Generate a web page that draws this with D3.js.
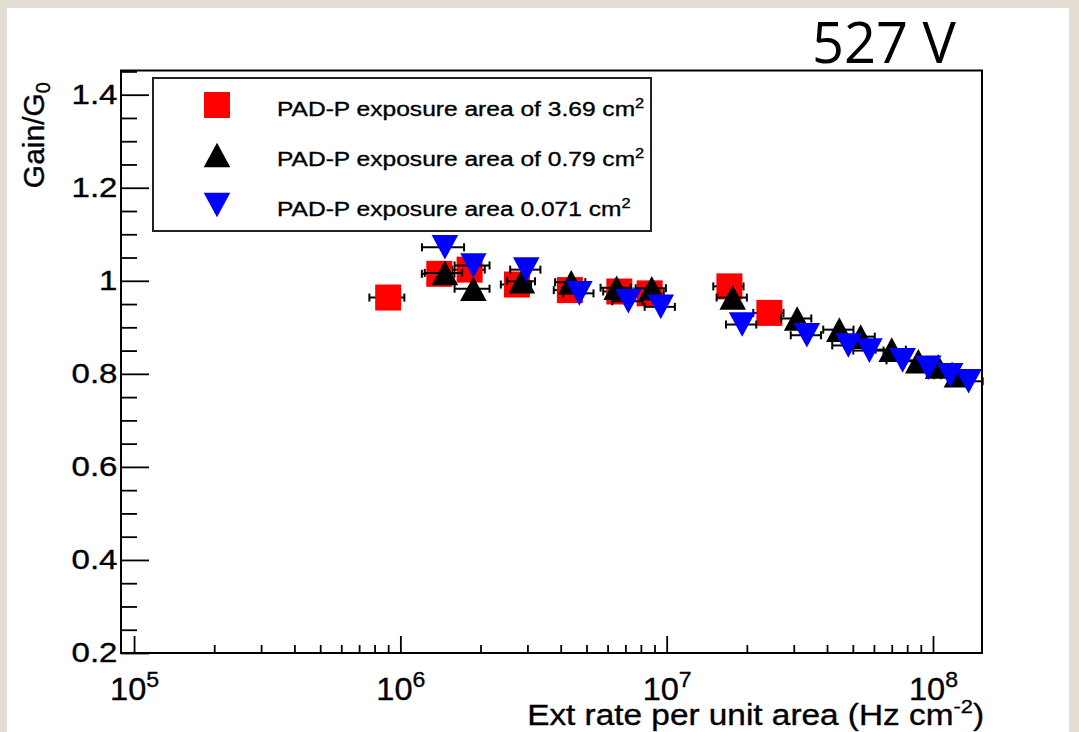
<!DOCTYPE html>
<html>
<head>
<meta charset="utf-8">
<script src="https://cdn.jsdelivr.net/npm/d3@7"></script>
<style>
body { margin: 0; background: #e4ddd3; }
svg { display: block; }
.root-text { stroke: #000; stroke-width: 0.35px; }
</style>
</head>
<body>
<svg id="chart" width="1079" height="732"></svg>
<script>
// ---------- data ----------
// PAD-P exposure area of 3.69 cm2 (red squares)
var rateRed = [9.0e5, 1.40e6, 1.82e6, 2.74e6, 4.33e6, 6.64e6, 8.63e6, 1.72e7, 2.43e7];
var gainRed = [0.964, 1.015, 1.024, 0.992, 0.980, 0.977, 0.973, 0.988, 0.931];
var errRed  = [0.15, 0.14, 0.14, 0.13, 0.13, 0.13, 0.13, 0.13, 0.13];

// PAD-P exposure area of 0.79 cm2 (black triangles up)
var rateBlack = [1.47e6, 1.88e6, 2.86e6, 4.38e6, 6.49e6, 8.79e6, 1.77e7, 3.09e7, 4.45e7, 5.35e7, 7.0e7, 8.81e7, 1.045e8, 1.23e8];
var gainBlack = [1.017, 0.983, 0.999, 0.997, 0.985, 0.984, 0.964, 0.919, 0.895, 0.880, 0.852, 0.827, 0.816, 0.797];
var errBlack  = [0.16, 0.15, 0.12, 0.13, 0.13, 0.13, 0.13, 0.13, 0.13, 0.13, 0.13, 0.13, 0.13, 0.13];

// PAD-P exposure area 0.071 cm2 (blue triangles down)
var rateBlue = [1.47e6, 1.88e6, 2.97e6, 4.7e6, 7.18e6, 9.5e6, 1.92e7, 3.36e7, 4.81e7, 5.77e7, 7.69e7, 9.6e7, 1.16e8, 1.36e8];
var gainBlue = [1.072, 1.033, 1.024, 0.973, 0.956, 0.944, 0.906, 0.883, 0.861, 0.850, 0.829, 0.813, 0.797, 0.784];
var errBlue  = [0.18, 0.15, 0.13, 0.13, 0.13, 0.13, 0.13, 0.13, 0.13, 0.13, 0.13, 0.13, 0.13, 0.13];

var legendLabels = ["PAD-P exposure area of 3.69 cm", "PAD-P exposure area of 0.79 cm", "PAD-P exposure area 0.071 cm"];
var yMajorTicks = [0.2, 0.4, 0.6, 0.8, 1.0, 1.2, 1.4];
var xDecades = [5, 6, 7, 8];
var titleText = "527 V";

// ---------- layout ----------
var svg = d3.select("#chart");
// frame edges (window.top is reserved, so prefix them)
var pLeft = 121, pRight = 982, pTop = 70.5, pBottom = 653;
var rootFont = "'Liberation Sans', Arial, sans-serif";

// white slide area
svg.append("rect").attr("x", 7).attr("y", 8).attr("width", 1062).attr("height", 724).attr("fill", "#fff");

var x = d3.scaleLog().domain([Math.pow(10, 4.951), Math.pow(10, 8.184)]).range([pLeft, pRight]);
var y = d3.scaleLinear().domain([0.2, 1.452]).range([pBottom, pTop]);

// ---------- axes (ticks point inward like ROOT) ----------
var yMinor = d3.range(5, 30).map(function (k) { return k * 0.05; })
    .filter(function (v) { return v <= 1.452 && Math.abs(v * 5 - Math.round(v * 5)) > 1e-6; });

var yMinorG = svg.append("g").attr("transform", "translate(" + pLeft + ",0)")
    .call(d3.axisLeft(y).tickValues(yMinor).tickSize(-16).tickFormat(""));
var yMajorG = svg.append("g").attr("transform", "translate(" + pLeft + ",0)")
    .call(d3.axisLeft(y).tickValues(yMajorTicks).tickSize(-28).tickPadding(3)
        .tickFormat(function (v) { return String(Math.round(v * 10) / 10); }));

yMajorG.selectAll(".tick text")
    .attr("class", "root-text")
    .attr("font-family", rootFont).attr("font-size", 28).attr("fill", "#000")
    .attr("transform", "scale(1.18,1)");

var xMinor = [];
[4].concat(xDecades).forEach(function (d) {
    for (var m = 2; m <= 9; m++) {
        var v = m * Math.pow(10, d);
        if (v > x.domain()[0] * 1.01 && v < x.domain()[1]) xMinor.push(v);
    }
});
var xMajor = xDecades.map(function (d) { return Math.pow(10, d); });

var xMinorG = svg.append("g").attr("transform", "translate(0," + pBottom + ")")
    .call(d3.axisBottom(x).tickValues(xMinor).tickSize(-8).tickFormat(""));
var xMajorG = svg.append("g").attr("transform", "translate(0," + pBottom + ")")
    .call(d3.axisBottom(x).tickValues(xMajor).tickSize(-17).tickFormat(""));

// 10^n labels with superscripts
xMajorG.selectAll(".tick text").each(function (v) {
    var t = d3.select(this).text(null)
        .attr("class", "root-text")
        .attr("y", 47).attr("dy", null)
        .attr("font-family", rootFont).attr("font-size", 31).attr("fill", "#000")
        .attr("transform", "scale(1.05,1)");
    t.append("tspan").text("10");
    t.append("tspan").attr("dy", -13).attr("font-size", 22).text(Math.round(Math.log10(v)));
});

[yMinorG, yMajorG, xMinorG, xMajorG].forEach(function (g) {
    g.select(".domain").remove();
    g.selectAll(".tick line").attr("stroke", "#000").attr("stroke-width", 1.8);
});

// frame
svg.append("rect").attr("x", pLeft).attr("y", pTop)
    .attr("width", pRight - pLeft).attr("height", pBottom - pTop)
    .attr("fill", "none").attr("stroke", "#000").attr("stroke-width", 2);

// axis titles
var xt = svg.append("text").attr("class", "root-text")
    .attr("transform", "translate(984,725) scale(1.15,1)")
    .attr("text-anchor", "end").attr("font-family", rootFont).attr("font-size", 29);
xt.append("tspan").text("Ext rate per unit area (Hz cm");
xt.append("tspan").attr("dy", -12).attr("font-size", 19).text("-2");
xt.append("tspan").attr("dy", 12).text(")");

var yt = svg.append("text").attr("class", "root-text")
    .attr("transform", "translate(44,82) rotate(-90)")
    .attr("text-anchor", "end").attr("font-family", rootFont).attr("font-size", 30);
yt.append("tspan").text("Gain/G");
yt.append("tspan").attr("dy", 6).attr("font-size", 20).text("0");

// ---------- markers ----------
function squarePath(cx, cy) {
    return "M" + (cx - 13) + "," + (cy - 13) + "h26v26h-26Z";
}
function triUpPath(cx, cy) {
    return "M" + (cx - 13.3) + "," + (cy + 12.3) + "L" + (cx + 13.3) + "," + (cy + 12.3) + "L" + cx + "," + (cy - 12.3) + "Z";
}
function triDownPath(cx, cy) {
    return "M" + (cx - 13.3) + "," + (cy - 12.3) + "L" + (cx + 13.3) + "," + (cy - 12.3) + "L" + cx + "," + (cy + 12.3) + "Z";
}

var series = [
    {rate: rateRed, gain: gainRed, err: errRed, color: "#ff0000", shape: squarePath},
    {rate: rateBlack, gain: gainBlack, err: errBlack, color: "#000000", shape: triUpPath},
    {rate: rateBlue, gain: gainBlue, err: errBlue, color: "#0000ff", shape: triDownPath}
];

series.forEach(function (s) {
    var pts = s.rate.map(function (r, i) { return {r: r, g: s.gain[i], e: s.err[i]}; });
    var g = svg.append("g");
    // horizontal error bars with end caps, drawn under the markers
    var eb = g.selectAll(".err").data(pts).enter().append("g").attr("stroke", "#000").attr("stroke-width", 2);
    eb.append("line")
        .attr("x1", function (d) { return x(d.r * (1 - d.e)); })
        .attr("x2", function (d) { return x(d.r * (1 + d.e)); })
        .attr("y1", function (d) { return y(d.g); })
        .attr("y2", function (d) { return y(d.g); });
    eb.append("line")
        .attr("x1", function (d) { return x(d.r * (1 - d.e)); })
        .attr("x2", function (d) { return x(d.r * (1 - d.e)); })
        .attr("y1", function (d) { return y(d.g) - 4; })
        .attr("y2", function (d) { return y(d.g) + 4; });
    eb.append("line")
        .attr("x1", function (d) { return x(d.r * (1 + d.e)); })
        .attr("x2", function (d) { return x(d.r * (1 + d.e)); })
        .attr("y1", function (d) { return y(d.g) - 4; })
        .attr("y2", function (d) { return y(d.g) + 4; });
    g.selectAll(".mk").data(pts).enter().append("path")
        .attr("d", function (d) { return s.shape(x(d.r), y(d.g)); })
        .attr("fill", s.color);
});

// ---------- legend ----------
var lg = svg.append("g");
lg.append("rect").attr("x", 153).attr("y", 78).attr("width", 498).attr("height", 153)
    .attr("fill", "#fff").attr("stroke", "#222").attr("stroke-width", 2);
series.forEach(function (s, i) {
    var cy = 105 + i * 50;
    lg.append("path").attr("d", s.shape(217, cy)).attr("fill", s.color);
    var t = lg.append("text").attr("class", "root-text")
        .attr("transform", "translate(277," + (cy + 11) + ") scale(1.17,1)")
        .attr("font-family", rootFont).attr("font-size", 21);
    t.append("tspan").text(legendLabels[i]);
    t.append("tspan").attr("dy", -8).attr("font-size", 14).text("2");
});

// slide title
svg.append("text").attr("x", 812).attr("y", 62.5)
    .attr("font-family", "'Open Sans', sans-serif").attr("font-size", 56).attr("fill", "#000")
    .text(titleText);
</script>
</body>
</html>
